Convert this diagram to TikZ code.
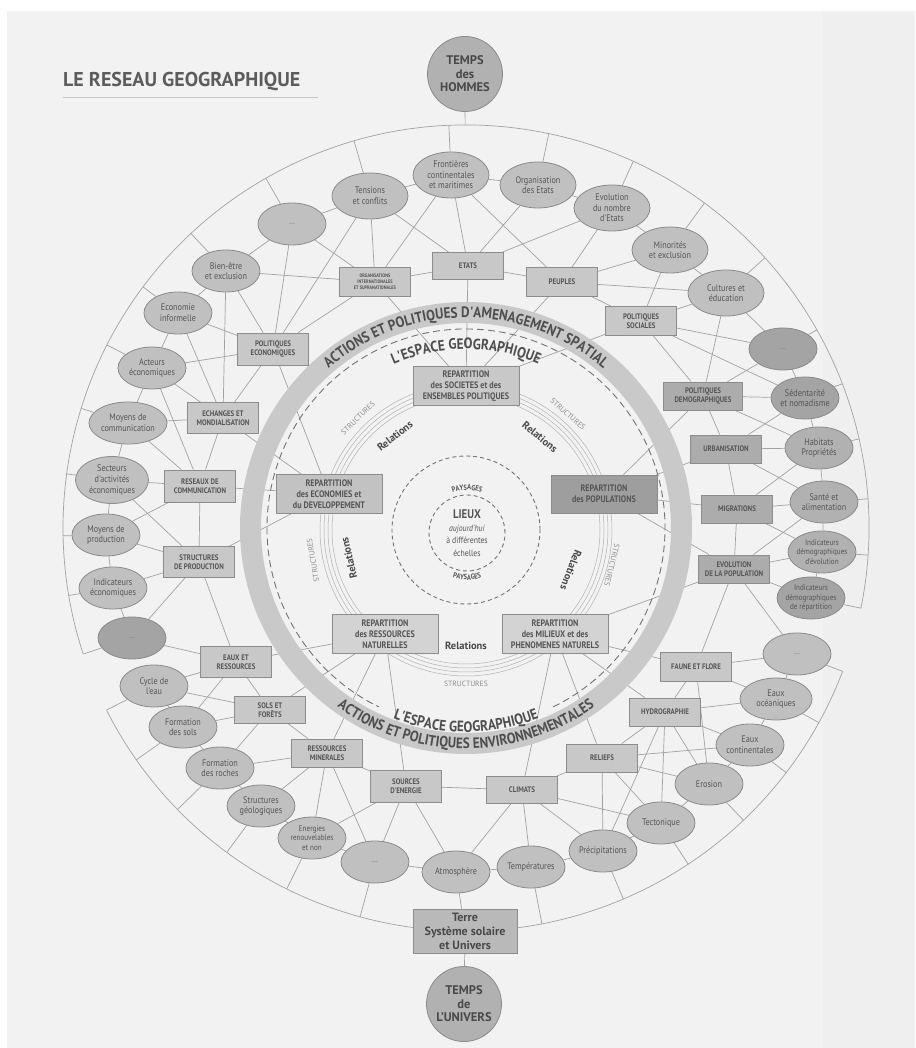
\documentclass[tikz,border=0pt]{standalone}
\usepackage{fontspec}
\setmainfont{PT Sans}
\newfontfamily\condfont[FakeStretch=0.86]{PT Sans}
\newfontfamily\ringfont[FakeStretch=0.88]{PT Sans}
\usetikzlibrary{shapes.geometric,calc,decorations.text}

\definecolor{pagebg}{HTML}{F2F2F2}
\definecolor{panelbg}{HTML}{EFEFEF}
\definecolor{lncol}{HTML}{A2A2A2}
\definecolor{ellA}{HTML}{C0C0C0}
\definecolor{ellB}{HTML}{B1B1B1}
\definecolor{ellC}{HTML}{A4A4A4}
\definecolor{ellbd}{HTML}{8A8A8A}
\definecolor{boxA}{HTML}{C8C8C8}
\definecolor{boxB}{HTML}{ACACAC}
\definecolor{boxbd}{HTML}{8C8C8C}
\definecolor{txt}{HTML}{555555}
\definecolor{darktxt}{HTML}{484848}
\definecolor{ringfill}{HTML}{C9C9C9}
\definecolor{ringtxt}{HTML}{4E4E4E}
\definecolor{strucln}{HTML}{B2B2B2}
\definecolor{structxt}{HTML}{8C8C8C}
\definecolor{dashcol}{HTML}{727272}
\definecolor{titlecol}{HTML}{5C5C5C}

\pgfdeclarelayer{bg}
\pgfdeclarelayer{edges}
\pgfdeclarelayer{ringlayer}
\pgfsetlayers{bg,edges,ringlayer,main}

% ellipse of fixed size with its text set in a separate node on top
\newcommand\ellnode[5][]{%
  \node[ellshape,#1] (#2) at (#3) {};
  \node[elltext,#4] (#2-t) at (#2) {#5};}

\begin{document}
\begin{tikzpicture}[x=1pt,y=1pt,
  ln/.style={draw=lncol,line width=0.7pt},
  ellshape/.style={ellipse,draw=ellbd,line width=0.8pt,fill=ellA,
    minimum width=68pt,minimum height=42pt,inner sep=0pt},
  bigell/.style={minimum width=76pt,minimum height=46pt},
  elltext/.style={align=center,inner sep=0pt,text=txt,
    font=\condfont\fontsize{9.5}{10.6}\selectfont},
  smalltext/.style={font=\condfont\fontsize{8.3}{9.3}\selectfont},
  dotstext/.style={text=gray},
  outbox/.style={rectangle,draw=boxbd,line width=0.8pt,fill=boxA,
    minimum width=71pt,minimum height=29pt,inner sep=1pt,align=center,text=txt,
    font=\condfont\bfseries\fontsize{8}{9.2}\selectfont},
  cenbox/.style={rectangle,draw=boxbd,line width=0.8pt,fill=boxA,
    minimum width=106pt,minimum height=39pt,inner sep=1pt,align=center,text=txt,
    font=\condfont\bfseries\fontsize{9.4}{11}\selectfont},
  timecircle/.style={circle,draw=ellbd,line width=0.8pt,fill=ellB,
    minimum size=75pt,inner sep=0pt,align=center,text=darktxt,
    font=\bfseries\fontsize{12.5}{13.5}\selectfont},
  reltext/.style={text=darktxt,font=\bfseries\fontsize{10.5}{11}\selectfont,inner sep=0pt},
  structext/.style={text=structxt,font=\fontsize{7.6}{8}\selectfont,inner sep=0pt},
  ringdash/.style={draw=dashcol,line width=0.9pt,dash pattern=on 7pt off 4pt},
  smalldash/.style={draw=dashcol,line width=0.9pt,dash pattern=on 4pt off 3pt}
]
\useasboundingbox (-466,-520) rectangle (449,528);
\coordinate (C) at (0,0);

\begin{pgfonlayer}{bg}
  \fill[white] (-466,-520) rectangle (449,528);
  \fill[pagebg] (-459,-520) rectangle (449,517);
  \fill[panelbg] (357,-520) rectangle (449,517);
\end{pgfonlayer}

% ---------- nodes, placed in page coordinates (y downwards) ----------
\begin{scope}[x=1pt,y=-1pt,shift={(-466pt,528pt)}]
  \node[anchor=base west,inner sep=0pt,text=titlecol,
        font=\bfseries\fontsize{20}{20}\selectfont] (title) at (63,87) {LE RESEAU GEOGRAPHIQUE};
  \draw[draw=black!22,line width=0.6pt] (63,97) -- (318,97);

  \node[timecircle] (thom) at (465,74) {TEMPS\\des\\HOMMES};
  \node[rectangle,draw=boxbd,line width=0.8pt,fill=ellB!90!white,minimum width=104pt,
        minimum height=44pt,inner sep=1pt,align=center,text=darktxt,
        font=\bfseries\fontsize{12}{14}\selectfont] (terre) at (465,931)
        {Terre\\Système solaire\\et Univers};
  \node[timecircle] (tuniv) at (464,1004) {TEMPS\\de\\L'UNIVERS};

  % societies and states
  \ellnode{bien}{226,271}{}{Bien-être\\et exclusion}
  \ellnode{dotsA}{292,224}{dotstext}{\ldots}
  \ellnode[bigell]{tens}{370,196}{}{Tensions\\et conflits}
  \ellnode[bigell]{front}{451,175}{}{Frontières\\continentales\\et maritimes}
  \ellnode[bigell]{orga}{538,185}{}{Organisation\\des Etats}
  \ellnode[bigell]{evonb}{612,208}{}{Evolution\\du nombre\\d'Etats}
  \ellnode[bigell]{mino}{670,250}{}{Minorités\\et exclusion}
  \ellnode[bigell]{cult}{726,293}{}{Cultures et\\éducation}
  % population
  \ellnode[fill=ellC]{dotsB}{783,349}{dotstext}{\ldots}
  \ellnode[fill=ellC]{seden}{805,398}{}{Sédentarité\\et nomadisme}
  \ellnode[fill=ellB]{habit}{819,448}{}{Habitats\\Propriétés}
  \ellnode[fill=ellB]{sante}{824,502}{}{Santé et\\alimentation}
  \ellnode[fill=ellB]{inddev}{822,552}{smalltext}{Indicateurs\\démographiques\\d'évolution}
  \ellnode[fill=ellC]{indrep}{811,598}{smalltext}{Indicateurs\\démographiques\\de répartition}
  % natural environment
  \ellnode{dotsC}{797,654}{dotstext}{\ldots}
  \ellnode[minimum width=72pt]{eocean}{776,699}{}{Eaux\\océaniques}
  \ellnode{econt}{750,745}{}{Eaux\\continentales}
  \ellnode{erosion}{709,784}{}{Erosion}
  \ellnode{tecto}{661,823}{}{Tectonique}
  \ellnode{precip}{603,851}{}{Précipitations}
  \ellnode{temper}{531,867}{}{Températures}
  \ellnode{atmo}{456,872}{}{Atmosphère}
  \ellnode{dotsD}{375,862}{dotstext}{\ldots}
  \ellnode{energ}{312,838}{smalltext}{Energies\\renouvelables\\et non}
  \ellnode{structg}{261,806}{}{Structures\\géologiques}
  \ellnode{froches}{220,768}{}{Formation\\des roches}
  \ellnode{fsols}{183,727}{}{Formation\\des sols}
  \ellnode{cycle}{154,686}{}{Cycle de\\l'eau}
  % economy
  \ellnode[fill=ellC]{dotsE}{132,638}{dotstext}{\ldots}
  \ellnode{indeco}{113,588}{}{Indicateurs\\économiques}
  \ellnode{mprod}{106,535}{}{Moyens de\\production}
  \ellnode[minimum width=73pt,minimum height=47pt]{secteurs}{112,480}{}{Secteurs\\d'activités\\économiques}
  \ellnode[minimum width=78pt]{mcomm}{128,423}{}{Moyens de\\communication}
  \ellnode{acteurs}{152,368}{}{Acteurs\\économiques}
  \ellnode{ecoinf}{178,313}{}{Economie\\informelle}

  % outer ring of themes
  \node[outbox,font=\condfont\bfseries\fontsize{5}{6}\selectfont] (orgint) at (375,282)
       {ORGANISATIONS\\INTERNATIONALES\\ET SUPRANATIONALES};
  \node[outbox,minimum height=27pt] (etats) at (468,266) {ETATS};
  \node[outbox] (peuples) at (562,282) {PEUPLES};
  \node[outbox] (polsoc) at (641,321) {POLITIQUES\\SOCIALES};
  \node[outbox,fill=boxB,minimum width=79pt,minimum height=28pt] (poldemo) at (703,396) {POLITIQUES\\DEMOGRAPHIQUES};
  \node[outbox,fill=boxB,minimum height=28pt] (urban) at (726,449) {URBANISATION};
  \node[outbox,fill=boxB,minimum height=28pt] (migr) at (737,509) {MIGRATIONS};
  \node[outbox,fill=boxB,minimum height=28pt] (evol) at (734,569) {EVOLUTION\\DE LA POPULATION};
  \node[outbox] (faune) at (696,667) {FAUNE ET FLORE};
  \node[outbox,minimum height=28pt] (hydro) at (665,712) {HYDROGRAPHIE};
  \node[outbox,minimum height=28pt] (reliefs) at (602,758) {RELIEFS};
  \node[outbox,minimum height=27pt] (climats) at (522,790) {CLIMATS};
  \node[outbox,minimum height=32pt] (sources) at (406,786) {SOURCES\\D'ENERGIE};
  \node[outbox,minimum height=28pt] (ressmin) at (327,753) {RESSOURCES\\MINERALES};
  \node[outbox,minimum height=27pt] (sols) at (270,710) {SOLS ET\\FORÊTS};
  \node[outbox,minimum height=31pt] (eaux) at (236,662) {EAUX ET\\RESSOURCES};
  \node[outbox,minimum height=31pt] (structp) at (199,562) {STRUCTURES\\DE PRODUCTION};
  \node[outbox,minimum height=32pt] (reseaux) at (200,486) {RESEAUX DE\\COMMUNICATION};
  \node[outbox,minimum height=31pt] (echanges) at (223,418) {ECHANGES ET\\MONDIALISATION};
  \node[outbox,minimum height=32pt] (poleco) at (273,349) {POLITIQUES\\ECONOMIQUES};

  % inner distributions
  \node[cenbox] (rsoc) at (466,386) {REPARTITION\\des SOCIETES et des\\ENSEMBLES POLITIQUES};
  \node[cenbox,fill=boxA!80!boxB] (reco) at (329,494) {REPARTITION\\des ECONOMIES et\\du DEVELOPPEMENT};
  \node[cenbox,fill=boxB!92!black,minimum height=38pt] (rpop) at (604,494) {REPARTITION\\des POPULATIONS};
  \node[cenbox,fill=boxA!80!white] (rress) at (385,634) {REPARTITION\\des RESSOURCES\\NATURELLES};
  \node[cenbox,fill=boxA!80!white] (rmil) at (555,634) {REPARTITION\\des MILIEUX et des\\PHENOMENES NATURELS};

  % labels of the central disc
  \node[reltext,rotate=38] (relA) at (395,436) {Relations};
  \node[reltext,rotate=-39] (relB) at (540,437) {Relations};
  \node[reltext,rotate=103] (relC) at (349,558) {Relations};
  \node[reltext,rotate=-111] (relD) at (571,570) {Relations};
  \node[reltext] (relE) at (466,646) {Relations};
  \node[structext,rotate=44] (stA) at (358,418) {STRUCTURES};
  \node[structext,rotate=-41] (stB) at (568,414) {STRUCTURES};
  \node[structext,rotate=100] (stC) at (313,560) {STRUCTURES};
  \node[structext,rotate=-104] (stD) at (612,565) {STRUCTURES};
  \node[structext] (stE) at (466,684) {STRUCTURES};

  \node[align=center,inner sep=0pt,text=txt,font=\condfont\fontsize{9}{12.6}\selectfont] (lieux) at (467,533)
     {{\bfseries\fontsize{12.5}{12.6}\selectfont LIEUX}\\\textit{aujourd'hui}\\à différentes\\échelles};
\end{scope}

% ---------- connectors ----------
\begin{pgfonlayer}{edges}
  % outer boundary, one arc per group of themes
  \draw[ln] (-11.5:403) arc[start angle=-11.5,end angle=198.2,radius=403];
  \draw[ln] (206.9:403) arc[start angle=206.9,end angle=339.2,radius=403];
  \draw[ln] (thom) -- ($(C)!403pt!(thom)$);
  % radial spokes from each ellipse
  \foreach \e in {bien,dotsA,tens,front,orga,evonb,mino,cult,dotsB,seden,habit,sante,
      inddev,indrep,dotsC,eocean,econt,erosion,tecto,precip,temper,dotsD,energ,structg,
      froches,fsols,cycle,dotsE,indeco,mprod,secteurs,mcomm,acteurs,ecoinf}
    \draw[ln] (\e) -- ($(C)!403pt!(\e)$);
  % neighbouring ellipses
  \foreach \a/\b in {bien/dotsA,dotsA/tens,tens/front,front/orga,orga/evonb,evonb/mino,
      mino/cult,cult/dotsB,dotsB/seden,seden/habit,habit/sante,sante/inddev,inddev/indrep,
      dotsC/eocean,eocean/econt,econt/erosion,erosion/tecto,tecto/precip,precip/temper,
      temper/atmo,atmo/dotsD,dotsD/energ,energ/structg,structg/froches,froches/fsols,
      fsols/cycle,dotsE/indeco,indeco/mprod,mprod/secteurs,secteurs/mcomm,mcomm/acteurs,
      acteurs/ecoinf,ecoinf/bien}
    \draw[ln] (\a) -- (\b);
  % neighbouring theme boxes
  \foreach \a/\b in {orgint/etats,etats/peuples,peuples/polsoc,polsoc/poldemo,poldemo/urban,
      urban/migr,migr/evol,evol/faune,faune/hydro,hydro/reliefs,reliefs/climats,
      climats/sources,sources/ressmin,ressmin/sols,sols/eaux,eaux/structp,structp/reseaux,
      reseaux/echanges,echanges/poleco,poleco/orgint}
    \draw[ln] (\a) -- (\b);
  % cross links
  \foreach \a/\b in {tens/orgint,tens/etats,tens/poleco,dotsA/orgint,dotsA/poleco,
      front/orgint,front/etats,front/peuples,orga/etats,evonb/etats,evonb/peuples,
      mino/peuples,mino/polsoc,bien/orgint,bien/poleco,bien/echanges,peuples/cult,polsoc/cult,
      rsoc/etats,rsoc/orgint,rsoc/peuples,rsoc/polsoc,
      ecoinf/poleco,ecoinf/echanges,acteurs/poleco,acteurs/echanges,acteurs/reseaux,
      mcomm/echanges,mcomm/reseaux,secteurs/reseaux,secteurs/structp,mprod/reseaux,
      mprod/structp,indeco/structp,dotsE/structp,
      reco/reseaux,reco/structp,reco/poleco,reco/echanges,
      polsoc/dotsB,polsoc/seden,cult/poldemo,dotsB/poldemo,poldemo/seden,poldemo/habit,
      seden/urban,urban/habit,urban/sante,habit/migr,migr/sante,migr/inddev,sante/evol,
      evol/inddev,evol/indrep,evol/dotsC,
      rpop/migr,rpop/poldemo,rpop/urban,rpop/evol,
      rmil/faune,rmil/hydro,rmil/reliefs,rmil/climats,rmil/evol,
      faune/dotsC,faune/eocean,faune/erosion,hydro/eocean,hydro/econt,hydro/erosion,
      hydro/tecto,hydro/precip,reliefs/econt,reliefs/erosion,reliefs/tecto,reliefs/precip,
      climats/tecto,climats/precip,climats/temper,climats/atmo,
      dotsE/eaux,cycle/eaux,cycle/sols,fsols/sols,fsols/eaux,froches/ressmin,froches/sols,
      structg/ressmin,energ/ressmin,energ/sources,dotsD/ressmin,dotsD/sources,atmo/sources,
      rress/eaux,rress/sols,rress/ressmin,rress/sources,
      atmo/terre,terre/tuniv}
    \draw[ln] (\a) -- (\b);
\end{pgfonlayer}

% ---------- the geographic space ----------
\begin{pgfonlayer}{ringlayer}
  \fill[ringfill,even odd rule] (C) circle[radius=226] (C) circle[radius=205];
  \path[decorate,decoration={text along path,text align=center,text color=ringtxt,
      text={|\ringfont\bfseries\fontsize{15}{15}\selectfont|ACTIONS ET POLITIQUES D'AMENAGEMENT SPATIAL}}]
      (140:210.5) arc[start angle=140,end angle=40,radius=210.5];
  \path[decorate,decoration={text along path,text align=center,text color=ringtxt,
      text={|\ringfont\bfseries\fontsize{15}{15}\selectfont|ACTIONS ET POLITIQUES ENVIRONNEMENTALES}}]
      (-140:220.5) arc[start angle=-140,end angle=-40,radius=220.5];
  \draw[ringdash] (-64:199) arc[start angle=-64,end angle=244,radius=199];
  \path[decorate,decoration={text along path,text align=center,text color=ringtxt,
      text={|\ringfont\bfseries\fontsize{15}{15}\selectfont|L'ESPACE GEOGRAPHIQUE}}]
      (125:179) arc[start angle=125,end angle=55,radius=179];
  \path[decorate,decoration={text along path,text align=center,text color=ringtxt,
      text={|\ringfont\bfseries\fontsize{15}{15}\selectfont|L'ESPACE GEOGRAPHIQUE}}]
      (-125:204) arc[start angle=-125,end angle=-55,radius=204];
  % structures
  \foreach \r in {134,138,142,146}
    \draw[strucln,line width=0.5pt] (0,-2) circle[radius=\r];
  % places and landscapes
  \draw[smalldash] (0,-2) circle[radius=74];
  \begin{scope}[shift={(1,-5)}]
    \draw[smalldash] (0,0) circle[radius=38];
    \path[decorate,decoration={text along path,text align=center,text color=txt,
        text={|\condfont\bfseries\fontsize{7.5}{8}\selectfont|PAYSAGES}}]
        (150:43) arc[start angle=150,end angle=30,radius=43];
    \path[decorate,decoration={text along path,text align=center,text color=txt,
        text={|\condfont\bfseries\fontsize{7.5}{8}\selectfont|PAYSAGES}}]
        (-150:47) arc[start angle=-150,end angle=-30,radius=47];
  \end{scope}
\end{pgfonlayer}
\end{tikzpicture}
\end{document}
